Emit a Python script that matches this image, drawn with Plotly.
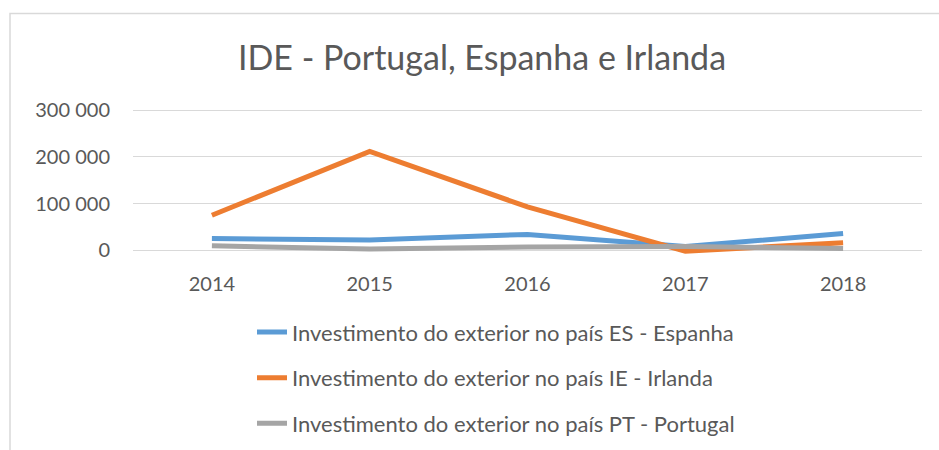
import plotly.graph_objects as go

years = ["2014", "2015", "2016", "2017", "2018"]
espanha = [25000, 22000, 34000, 8000, 36000]
irlanda = [75000, 212000, 93000, -2000, 16000]
portugal = [9500, 2500, 7000, 8000, 3600]

series_names = [
    "Investimento do exterior no país ES - Espanha",
    "Investimento do exterior no país IE - Irlanda",
    "Investimento do exterior no país PT - Portugal",
]
series_values = [espanha, irlanda, portugal]
series_colors = ["#5B9BD5", "#ED7D31", "#A5A5A5"]

y_tickvals = [0, 100000, 200000, 300000]
y_ticktext = ["0", "100 000", "200 000", "300 000"]

title_text = "IDE - Portugal, Espanha e Irlanda"
FONT = "Lato"
TXT = "#595959"

fig = go.Figure()
for i, (name, vals, col) in enumerate(zip(series_names, series_values, series_colors)):
    fig.add_trace(go.Scatter(
        x=years, y=vals, name=name, mode="lines",
        line=dict(color=col, width=5),
        legendgroup="g%d" % i,
        hoverinfo="skip",
    ))

W, H = 939, 450
L, R = 133, 17
T, B = 107.6, 196.3
pw = W - L - R
ph = H - T - B

def px_x(p):
    return (p - L) / pw

def px_y(p):
    return (H - B - p) / ph

fig.update_layout(
    width=W, height=H,
    margin=dict(l=L, r=R, t=T, b=B, autoexpand=False),
    paper_bgcolor="white", plot_bgcolor="white",
    font=dict(family=FONT, color=TXT, size=20),
    title=dict(text=title_text, x=482 / W, xanchor="center", xref="container",
               y=1 - 58 / H, yanchor="middle", yref="container",
               font=dict(size=34, color=TXT, family=FONT)),
    xaxis=dict(type="category", range=[-0.5, 4.5], showgrid=False, zeroline=False,
               showline=False, ticks="", tickfont=dict(size=20, color=TXT),
               ticklabelstandoff=16),
    yaxis=dict(range=[-8000, 305000], tickvals=y_tickvals, ticktext=y_ticktext,
               showgrid=True, gridcolor="#D9D9D9", gridwidth=1, zeroline=False,
               showline=False, ticks="", tickfont=dict(size=20, color=TXT),
               ticklabelstandoff=22),
    showlegend=True,
    legend=dict(orientation="v", x=px_x(252), xanchor="left", y=px_y(311),
                yanchor="top", tracegroupgap=14, itemwidth=30,
                font=dict(size=22, color=TXT, family=FONT),
                bgcolor="rgba(0,0,0,0)"),
    shapes=[dict(type="rect", xref="paper", yref="paper",
                 x0=px_x(10), x1=px_x(990), y0=px_y(480), y1=px_y(13),
                 line=dict(color="#D9D9D9", width=1.5), layer="below")],
)

fig.write_html(
    "out.html",
    config={"displayModeBar": False},
    post_script="document.body.style.margin='0';document.body.style.overflow='hidden';",
)
